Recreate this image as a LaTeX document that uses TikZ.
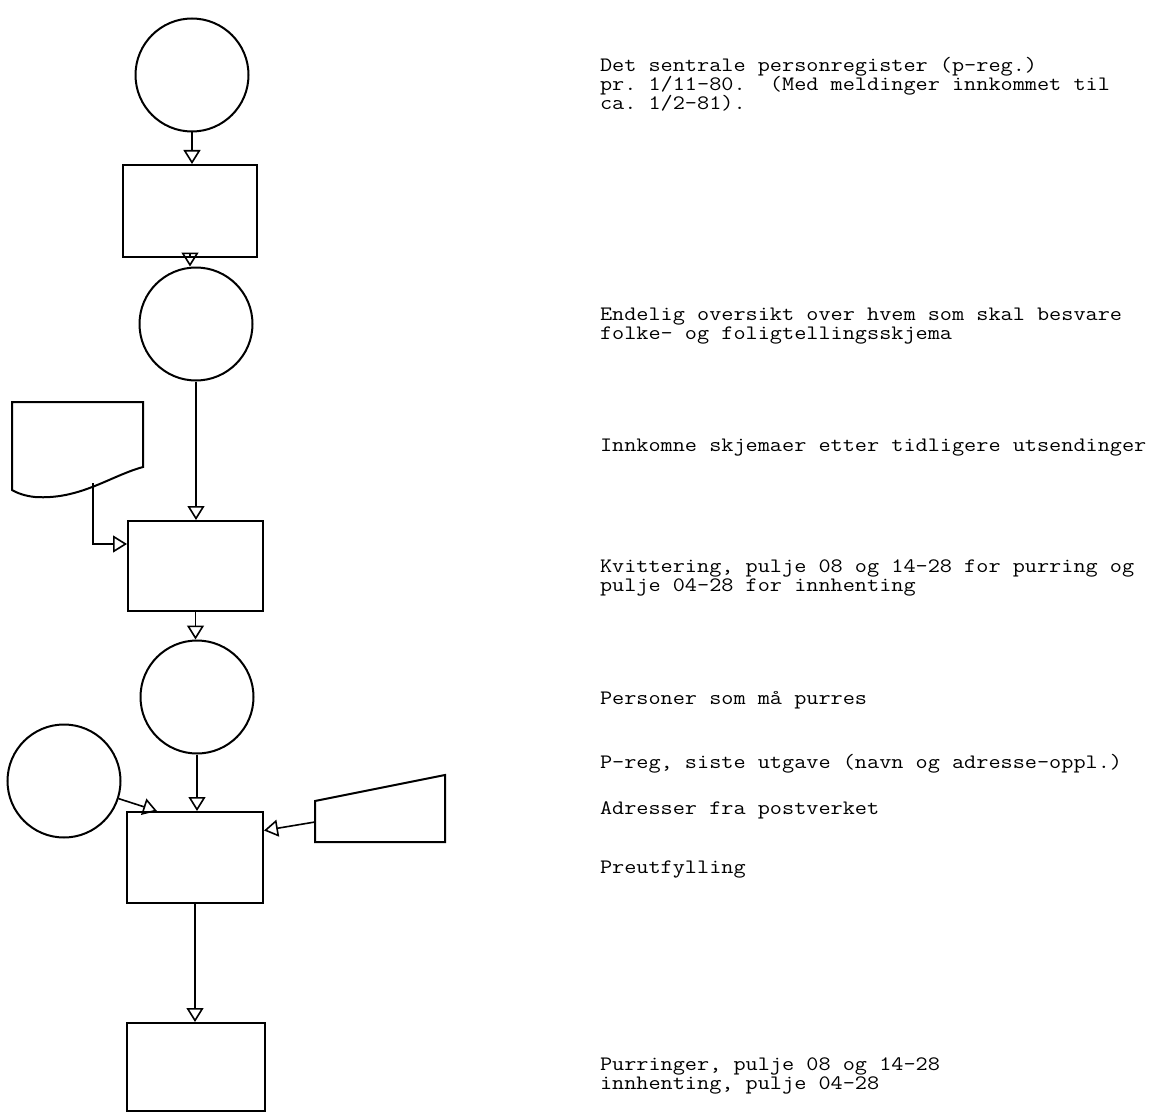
\documentclass[tikz,border=0pt]{standalone}
\usepackage{fontspec}
\setmonofont[FakeStretch=1.15]{Latin Modern Mono}
\usetikzlibrary{arrows.meta}
\begin{document}
\begin{tikzpicture}[x=1pt,y=-1pt,
  line width=2pt,
  flow/.style={-{Triangle[open,length=14pt,width=17pt,line width=1.6pt]}, line width=1.6pt},
  bubble/.style={draw, circle, minimum size=113pt, inner sep=0pt},
  proc/.style={draw, rectangle, inner sep=0pt},
  txt/.style={anchor=base west, inner sep=0pt,
    font=\fontsize{20.5}{19.3}\selectfont\ttfamily}]
\useasboundingbox (0,0) rectangle (1151,1113);
% main column
\node[bubble] (c1) at (192,75) {};
\node[proc, minimum width=134pt, minimum height=92pt] (r1) at (190,211) {};
\node[bubble] (c2) at (196,324) {};
\node[proc, minimum width=135pt, minimum height=90pt] (r2) at (195.5,566) {};
\node[bubble] (c3) at (197,697) {};
\node[proc, minimum width=136pt, minimum height=91pt] (r3) at (195,857.5) {};
\node[proc, minimum width=138pt, minimum height=88pt] (r4) at (196,1067) {};
\node[bubble] (c4) at (64,781) {};
% document shape
\draw (12,402) -- (143,402) -- (143,467)
  .. controls (110,476) and (80,500) .. (35,497)
  .. controls (25,496) and (17,493) .. (12,490) -- cycle;
\coordinate (docout) at (93,483);
% trapezoid
\draw (315,801) -- (445,775) -- (445,842) -- (315,842) -- cycle;
\coordinate (trapin) at (315,822);
% connectors
\draw[flow] (c1.south) -- (c1.south |- r1.north);
\draw[flow] (r1.south) -- (r1.south |- c2.north);
\draw[flow] (c2.south) -- (c2.south |- r2.north);
\draw[flow] (docout) |- ([yshift=22pt]r2.west);
\draw[flow] (r2.south) -- (r2.south |- c3.north);
\draw[flow] (c3.south) -- (c3.south |- r3.north);
\draw[flow] (c4) -- ([xshift=-38pt]r3.north);
\draw[flow] (trapin) -- ([yshift=27pt]r3.east);
\draw[flow] (r3.south) -- (r3.south |- r4.north);
% texts
\node[txt] (t1a) at (599,72) {Det sentrale personregister (p-reg.)};
\node[txt] (t1b) at (599,91) {pr. 1/11-80.\ \ (Med meldinger innkommet til};
\node[txt] (t1c) at (599,110) {ca. 1/2-81).};
\node[txt] (t2a) at (599,320) {Endelig oversikt over hvem som skal besvare};
\node[txt] (t2b) at (599,339) {folke- og foligtellingsskjema};
\node[txt] (t3) at (599,451) {Innkomne skjemaer etter tidligere utsendinger};
\node[txt] (t4a) at (599,572) {Kvittering, pulje 08 og 14-28 for purring og};
\node[txt] (t4b) at (599,591) {pulje 04-28 for innhenting};
\node[txt] (t5) at (599,704) {Personer som må purres};
\node[txt] (t6) at (599,768) {P-reg, siste utgave (navn og adresse-oppl.)};
\node[txt] (t7) at (599,814) {Adresser fra postverket};
\node[txt] (t8) at (599,873) {Preutfylling};
\node[txt] (t9a) at (599,1070) {Purringer, pulje 08 og 14-28};
\node[txt] (t9b) at (599,1089) {innhenting, pulje 04-28};
\end{tikzpicture}
\end{document}
